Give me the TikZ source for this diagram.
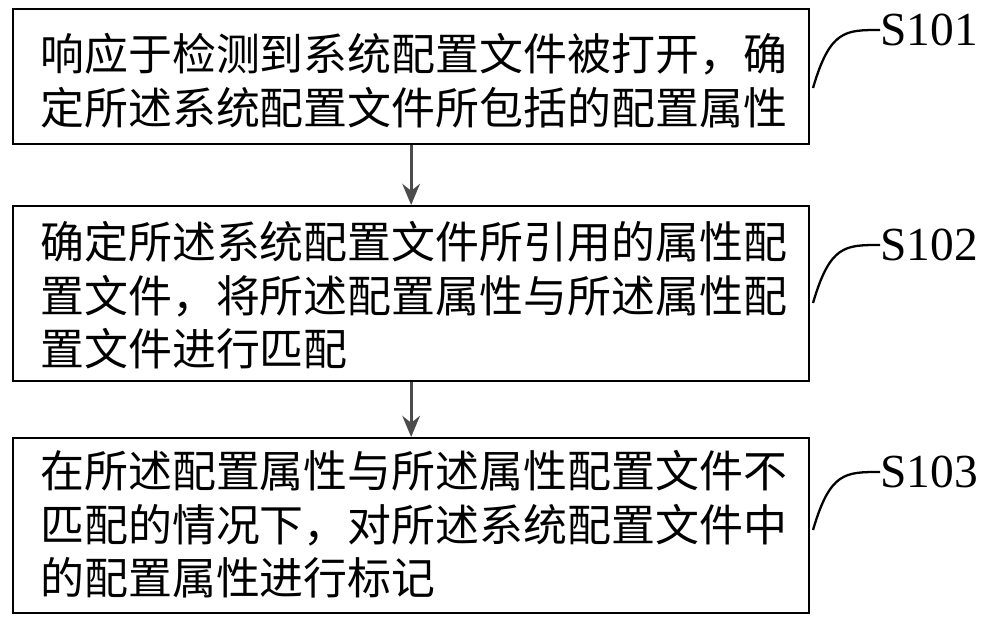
\documentclass[tikz,border=0pt]{standalone}
\usepackage{fontspec}
\usetikzlibrary{arrows.meta}
\setmainfont{Liberation Serif}
\newfontfamily\cjk{Noto Sans CJK SC}
\begin{document}
\begin{tikzpicture}[x=0.02cm,y=-0.02cm,
  box/.style={draw,line width=1.3pt},
  txt/.style={anchor=north west,inner sep=0pt,align=left,font=\cjk\fontsize{25}{30.5}\selectfont},
  lbl/.style={anchor=west,inner sep=0pt,font=\fontsize{27}{30}\selectfont},
  arr/.style={-{Stealth[length=12pt,width=10pt]},line width=1.6pt,draw=black!70},
  crv/.style={line width=1.3pt}]
\useasboundingbox (0,0) rectangle (1000,624);
\node[box,minimum width=796*0.02cm,minimum height=135*0.02cm,anchor=north west] (b1) at (12,8) {};
\node[box,minimum width=796*0.02cm,minimum height=175*0.02cm,anchor=north west] (b2) at (12,205) {};
\node[box,minimum width=796*0.02cm,minimum height=175*0.02cm,anchor=north west] (b3) at (12,437) {};
\node[txt] (t1) at (40,33) {响应于检测到系统配置文件被打开，确\\定所述系统配置文件所包括的配置属性};
\node[txt] (t2) at (40,221) {确定所述系统配置文件所引用的属性配\\置文件，将所述配置属性与所述属性配\\置文件进行匹配};
\node[txt] (t3) at (40,450) {在所述配置属性与所述属性配置文件不\\匹配的情况下，对所述系统配置文件中\\的配置属性进行标记};
\draw[arr] (b1.south) -- (b2.north);
\draw[arr] (b2.south) -- (b3.north);
\node[lbl] (s1) at (880,30) {S101};
\node[lbl] (s2) at (880,245) {S102};
\node[lbl] (s3) at (880,472) {S103};
\coordinate (c1) at (813,88);
\coordinate (c2) at (813,303);
\coordinate (c3) at (813,530);
\draw[crv] (c1) .. controls (830,30) and (845,30) .. (s1.west);
\draw[crv] (c2) .. controls (830,245) and (845,245) .. (s2.west);
\draw[crv] (c3) .. controls (830,472) and (845,472) .. (s3.west);
\end{tikzpicture}
\end{document}
